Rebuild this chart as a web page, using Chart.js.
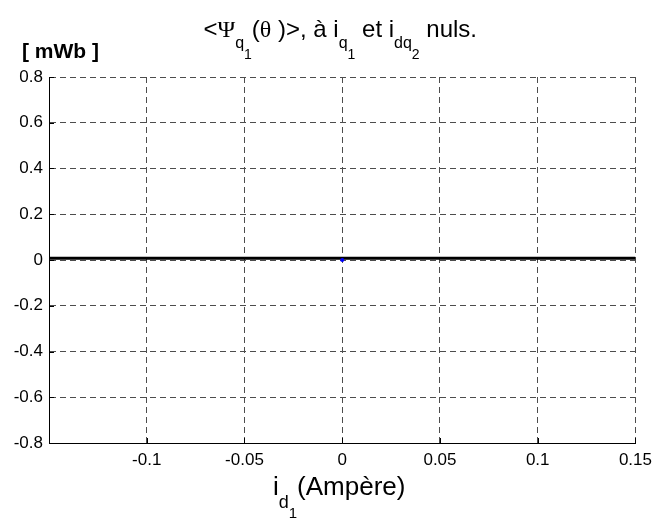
<!DOCTYPE html>
<html>
<head>
<meta charset="utf-8">
<script src="https://cdn.jsdelivr.net/npm/chart.js@4/dist/chart.umd.min.js"></script>
<style>
  html, body { margin: 0; padding: 0; background: #fff; }
  #wrap { width: 659px; height: 519px; position: relative; }
</style>
</head>
<body>
<div id="wrap"><canvas id="c" width="659" height="519"></canvas></div>
<script>
// ---- data ----
const currentId1 = [-0.15, -0.1, -0.05, 0, 0.05, 0.1, 0.15];
const fluxMean   = [0.008, 0.008, 0.008, 0.008, 0.008, 0.008, 0.008];
const pointX = [0];
const pointY = [0];
const xTickValues = [-0.1, -0.05, 0, 0.05, 0.1, 0.15];
const xTickLabels = ['-0.1', '-0.05', '0', '0.05', '0.1', '0.15'];
const yTickValues = [-0.8, -0.6, -0.4, -0.2, 0, 0.2, 0.4, 0.6, 0.8];
const yTickLabels = ['-0.8', '-0.6', '-0.4', '-0.2', '0', '0.2', '0.4', '0.6', '0.8'];
const unitLabel = '[ mWb ]';

const SANS = '"Liberation Sans", Arial, Helvetica, sans-serif';
const SERIF = '"Liberation Serif", "Times New Roman", serif';

// pieces: [text, level, fontFamily]
const titlePieces = [
  ['<', 0, SANS], ['Ψ', 0, SERIF], ['q', 1, SANS], ['1', 2, SANS],
  ['(', 0, SANS], ['θ', 0, SERIF], [' )>, à i', 0, SANS], ['q', 1, SANS], ['1', 2, SANS],
  [' et i', 0, SANS], ['dq', 1, SANS], ['2', 2, SANS], [' nuls.', 0, SANS]
];
const xTitlePieces = [
  ['i', 0, SANS], ['d', 1, SANS], ['1', 2, SANS], ['(Ampère)', 0, SANS]
];

function drawPieces(ctx, pieces, cx, baseY, sizes, offsets) {
  let total = 0;
  const widths = pieces.map(p => {
    ctx.font = sizes[p[1]] + 'px ' + p[2];
    const w = ctx.measureText(p[0]).width;
    total += w;
    return w;
  });
  let x = cx - total / 2;
  ctx.textBaseline = 'alphabetic';
  ctx.textAlign = 'left';
  pieces.forEach((p, i) => {
    ctx.font = sizes[p[1]] + 'px ' + p[2];
    ctx.fillText(p[0], x, baseY + offsets[p[1]]);
    x += widths[i];
  });
}

const decorPlugin = {
  id: 'decor',
  afterDraw(chart) {
    const ctx = chart.ctx;
    const area = chart.chartArea;
    const xs = chart.scales.x, ys = chart.scales.y;
    ctx.save();
    // inward ticks
    ctx.strokeStyle = '#000';
    ctx.lineWidth = 1;
    ctx.beginPath();
    xTickValues.forEach(v => {
      const px = Math.round(xs.getPixelForValue(v)) + 0.5;
      ctx.moveTo(px, area.bottom);
      ctx.lineTo(px, area.bottom - 5);
    });
    yTickValues.forEach(v => {
      const py = Math.round(ys.getPixelForValue(v)) + 0.5;
      ctx.moveTo(area.left, py);
      ctx.lineTo(area.left + 5, py);
    });
    ctx.stroke();
    // texts
    ctx.fillStyle = '#000';
    const cx = (area.left + area.right) / 2;
    drawPieces(ctx, titlePieces, cx - 2, 37, [24, 16, 14], [0, 11, 22]);
    drawPieces(ctx, xTitlePieces, cx - 3, 495, [26, 18, 15], [0, 13, 23]);
    ctx.font = 'bold 21px ' + SANS;
    ctx.textAlign = 'left';
    ctx.textBaseline = 'alphabetic';
    ctx.fillText(unitLabel, 22, 58);
    ctx.restore();
  }
};

const tickFont = { family: SANS, size: 17 };

new Chart(document.getElementById('c'), {
  type: 'line',
  data: {
    datasets: [
      {
        data: currentId1.map((x, i) => ({ x: x, y: fluxMean[i] })),
        borderColor: '#000',
        borderWidth: 3,
        pointRadius: 0,
        tension: 0,
        order: 2
      },
      {
        data: pointX.map((x, i) => ({ x: x, y: pointY[i] })),
        showLine: false,
        pointRadius: 2,
        pointBackgroundColor: '#0000ff',
        pointBorderColor: '#0000ff',
        pointBorderWidth: 0,
        order: 1
      }
    ]
  },
  options: {
    responsive: false,
    animation: false,
    devicePixelRatio: 1,
    layout: { padding: { top: 77, right: 20, left: 0, bottom: 0 } },
    plugins: { legend: { display: false }, tooltip: { enabled: false }, title: { display: false } },
    scales: {
      x: {
        type: 'linear',
        min: -0.15,
        max: 0.15,
        afterBuildTicks: s => { s.ticks = xTickValues.map(v => ({ value: v })); },
        afterFit: s => { s.height = 76; },
        ticks: {
          font: tickFont, color: '#000', padding: 7, maxRotation: 0, autoSkip: false,
          callback: (v, i) => xTickLabels[i]
        },
        grid: { color: '#4d4d4d', lineWidth: 1, drawTicks: false },
        border: { display: true, color: '#000', width: 1, dash: [6, 4] }
      },
      y: {
        type: 'linear',
        min: -0.8,
        max: 0.8,
        afterBuildTicks: s => { s.ticks = yTickValues.map(v => ({ value: v })); },
        afterFit: s => { s.width = 49; },
        ticks: {
          font: tickFont, color: '#000', padding: 6, autoSkip: false,
          callback: (v, i) => yTickLabels[i]
        },
        grid: { color: '#4d4d4d', lineWidth: 1, drawTicks: false },
        border: { display: true, color: '#000', width: 1, dash: [6, 4] }
      }
    }
  },
  plugins: [decorPlugin]
});
</script>
</body>
</html>
